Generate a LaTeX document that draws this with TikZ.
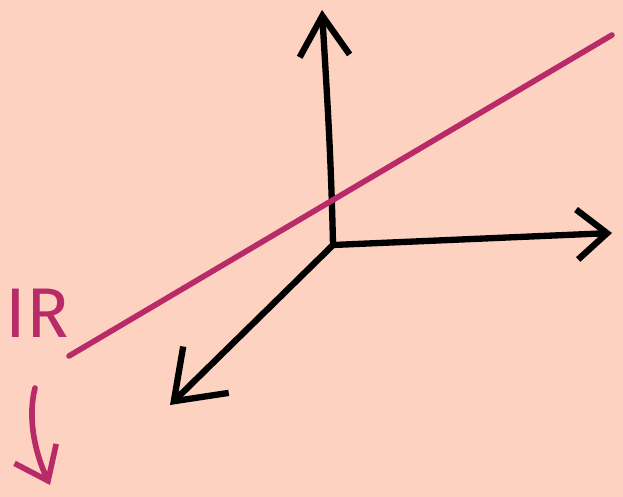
\documentclass[tikz,border=0pt]{standalone}
\usepackage{fontspec}
\setsansfont{Fira Sans}
\usepackage{tikz}
\usetikzlibrary{arrows.meta,positioning,calc}
\definecolor{salmonbg}{HTML}{FDD2C0}
\definecolor{lineMag}{HTML}{B82A68}

\begin{document}
\begin{tikzpicture}[x=0.1mm,y=-0.1mm,line cap=round,line join=round,
  axis/.style={draw=black,line width=1.8pt,-{Straight Barb[length=4mm,width=5mm,line width=1.8pt]}},
  realline/.style={draw=lineMag,line width=1.6pt},
  lbl/.style={text=lineMag,font=\sffamily\fontsize{20}{22}\selectfont,inner sep=0pt}]
  \fill[salmonbg] (0,0) rectangle (623,497);
  \useasboundingbox (0,0) rectangle (623,497);
  \coordinate (O) at (333,245);
  \coordinate (zend) at (322,10);
  \coordinate (xend) at (612,233);
  \coordinate (yend) at (170,405);
  % the three axes
  \draw[axis] (O) .. controls (331,150) and (326,80) .. (zend);
  \draw[axis,-{Straight Barb[length=3mm,width=5mm,line width=1.8pt]}] (O) -- (xend);
  \draw[axis,-{Straight Barb[length=4.5mm,width=6.5mm,line width=1.8pt]}] (O) -- (yend);
  % the line through the picture
  \coordinate (la) at (69,356);
  \coordinate (lb) at (612,35);
  \draw[realline] (la) -- (lb);
  % its label and the small arrow under it
  \node[lbl] (R) at (37,313) {IR};
  \coordinate (start) at (35,388);
  \coordinate (tip) at (50,485);
  \draw[realline,-{Straight Barb[length=3mm,width=4.6mm,line width=1.6pt]}]
    (start) .. controls (27,420) and (36,455) .. (tip);
\end{tikzpicture}
\end{document}
